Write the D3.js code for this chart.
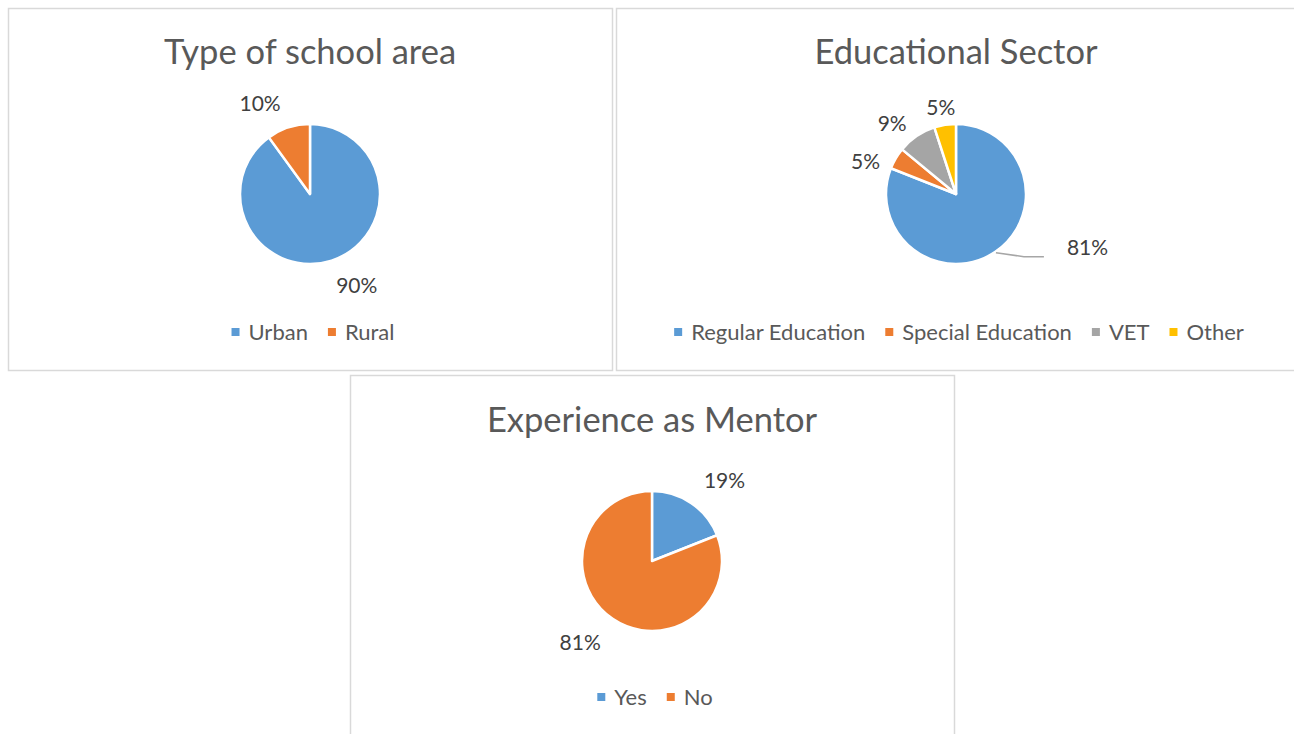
<!DOCTYPE html>
<html><head><meta charset="utf-8">
<script src="https://cdn.jsdelivr.net/npm/d3@7"></script>
<style>html,body{margin:0;padding:0;background:#fff;overflow:hidden}svg{display:block}</style>
</head><body>
<svg id="c" width="1294" height="734"></svg>
<script>
// ---- data ----
const areaTitle = "Type of school area";
const areaCategories = ["Urban", "Rural"];
const areaValues = [90, 10];

const sectorTitle = "Educational Sector";
const sectorCategories = ["Regular Education", "Special Education", "VET", "Other"];
const sectorValues = [81, 5, 9, 5];

const mentorTitle = "Experience as Mentor";
const mentorCategories = ["Yes", "No"];
const mentorValues = [19, 81];

const palette = ["#5B9BD5", "#ED7D31", "#A5A5A5", "#FFC000"];

// ---- layout ----
const FONT = "Lato, 'Open Sans', sans-serif";
// label placement: [angle nudge in degrees, distance from centre]
const panels = [
  {title: areaTitle, cats: areaCategories, vals: areaValues, colors: [palette[0], palette[1]],
   box: [8, 8, 612, 370], cx: 310, cy: 194, titleY: 64, legendY: 340, leader: -1,
   labelPos: [[-9, 103], [-11, 103]]},
  {title: sectorTitle, cats: sectorCategories, vals: sectorValues, colors: palette,
   box: [616, 8, 1297, 370], cx: 956, cy: 194, titleY: 64, legendY: 340, leader: 0,
   labelPos: [[0, 0], [-11, 96], [-8, 95], [-1, 88]]},
  {title: mentorTitle, cats: mentorCategories, vals: mentorValues, colors: [palette[0], palette[1]],
   box: [350, 375, 954, 745], cx: 652, cy: 561, titleY: 432, legendY: 705, leader: -1,
   labelPos: [[8, 108], [7, 109]]}
];
const R = 70;

const svg = d3.select("#c");

panels.forEach(p => {
  const g = svg.append("g");
  const [x0, y0, x1, y1] = p.box;
  g.append("rect").attr("x", x0 + 0.5).attr("y", y0 + 0.5)
    .attr("width", x1 - x0).attr("height", y1 - y0)
    .attr("fill", "#fff").attr("stroke", "#D9D9D9").attr("stroke-width", 1.5);

  g.append("text").attr("x", p.cx).attr("y", p.titleY)
    .attr("text-anchor", "middle").attr("font-family", FONT).attr("font-size", 34.5)
    .attr("fill", "#595959").text(p.title);

  const pie = d3.pie().sort(null).value(d => d)(p.vals);
  const arc = d3.arc().innerRadius(0).outerRadius(R);
  const pg = g.append("g").attr("transform", `translate(${p.cx},${p.cy})`);
  pg.selectAll("path").data(pie).join("path")
    .attr("d", arc).attr("fill", (d, i) => p.colors[i])
    .attr("stroke", "#fff").attr("stroke-width", 2.5).attr("stroke-linejoin", "round");

  const total = d3.sum(p.vals);
  pie.forEach((d, i) => {
    const a = (d.startAngle + d.endAngle) / 2;
    const txt = Math.round(d.value / total * 100) + "%";
    if (i === p.leader) {
      const sx = (R + 1) * Math.sin(a), sy = -(R + 1) * Math.cos(a);
      pg.append("path")
        .attr("d", `M${sx},${sy} L${sx + 28},${sy + 4} L${sx + 48},${sy + 4}`)
        .attr("fill", "none").attr("stroke", "#A6A6A6").attr("stroke-width", 1.5);
      pg.append("text").attr("x", sx + 71).attr("y", sy + 2).attr("font-family", FONT)
        .attr("font-size", 21).attr("fill", "#404040").text(txt);
    } else {
      const [nudge, dist] = p.labelPos[i];
      const aa = a + nudge * Math.PI / 180;
      pg.append("text")
        .attr("x", dist * Math.sin(aa)).attr("y", -dist * Math.cos(aa))
        .attr("dy", "0.35em").attr("text-anchor", "middle")
        .attr("font-family", FONT).attr("font-size", 21).attr("fill", "#404040").text(txt);
    }
  });

  // legend
  const lg = g.append("g");
  let x = 0;
  p.cats.forEach((c, i) => {
    lg.append("rect").attr("x", x).attr("y", -12).attr("width", 8).attr("height", 8)
      .attr("fill", p.colors[i]);
    const t = lg.append("text").attr("x", x + 17).attr("y", 0).attr("font-family", FONT)
      .attr("font-size", 22).attr("fill", "#595959").text(c);
    x += 17 + t.node().getComputedTextLength() + 20;
  });
  const w = x - 20;
  lg.attr("transform", `translate(${(x0 + Math.min(x1, 1296)) / 2 - w / 2 + 3},${p.legendY})`);
});
</script>
</body></html>
